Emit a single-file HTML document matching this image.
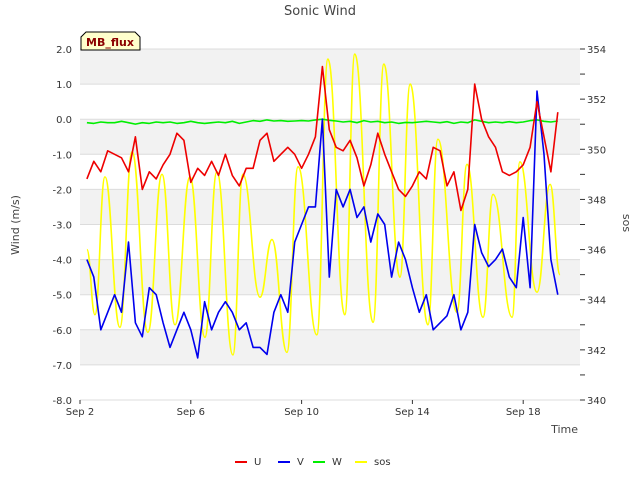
<!DOCTYPE html>
<html><head><meta charset="utf-8"><style>
body{margin:0;background:#fff;font-family:"Liberation Sans","DejaVu Sans",sans-serif;}
svg text{font-family:"DejaVu Sans","Liberation Sans",sans-serif;}
</style></head><body>
<svg id="chart" width="640" height="480" viewBox="0 0 640 480">
<rect x="0" y="0" width="640" height="480" fill="#fff"/>
<g id="bands"></g>
<g id="axes"></g>
<g id="series"></g>
<text x="320" y="15" text-anchor="middle" font-size="13" fill="#444">Sonic Wind</text>
<text transform="translate(19,225) rotate(-90)" text-anchor="middle" font-size="11" fill="#444">Wind (m/s)</text>
<text transform="translate(623,223) rotate(90)" text-anchor="middle" font-size="11" fill="#444">sos</text>
<text x="578" y="433" text-anchor="end" font-size="11" fill="#444">Time</text>
<g>
<path d="M81,50 L81,37 L86,32 L135,32 L140,37 L140,50 Z" fill="#ffffcc" stroke="#000" stroke-width="1"/>
<text x="110" y="46" text-anchor="middle" font-size="11" font-weight="bold" fill="#8b0000">MB_flux</text>
</g>
<g id="legend"></g>
</svg>
<script>
const NS="http://www.w3.org/2000/svg";
const days=[2.25,2.5,2.75,3,3.25,3.5,3.75,4,4.25,4.5,4.75,5,5.25,5.5,5.75,6,6.25,6.5,6.75,7,7.25,7.5,7.75,8,8.25,8.5,8.75,9,9.25,9.5,9.75,10,10.25,10.5,10.75,11,11.25,11.5,11.75,12,12.25,12.5,12.75,13,13.25,13.5,13.75,14,14.25,14.5,14.75,15,15.25,15.5,15.75,16,16.25,16.5,16.75,17,17.25,17.5,17.75,18,18.25,18.5,18.75,19,19.25];
const uVals=[-1.7,-1.2,-1.5,-0.9,-1.0,-1.1,-1.5,-0.5,-2.0,-1.5,-1.7,-1.3,-1.0,-0.4,-0.6,-1.8,-1.4,-1.6,-1.2,-1.6,-1.0,-1.6,-1.9,-1.4,-1.4,-0.6,-0.4,-1.2,-1.0,-0.8,-1.0,-1.4,-1.0,-0.5,1.5,-0.3,-0.8,-0.9,-0.6,-1.1,-1.9,-1.3,-0.4,-1.0,-1.5,-2.0,-2.2,-1.9,-1.5,-1.7,-0.8,-0.9,-1.9,-1.5,-2.6,-2.0,1.0,0.0,-0.5,-0.8,-1.5,-1.6,-1.5,-1.3,-0.8,0.5,-0.5,-1.5,0.2];
const vVals=[-4.0,-4.5,-6.0,-5.5,-5.0,-5.5,-3.5,-5.8,-6.2,-4.8,-5.0,-5.8,-6.5,-6.0,-5.5,-6.0,-6.8,-5.2,-6.0,-5.5,-5.2,-5.5,-6.0,-5.8,-6.5,-6.5,-6.7,-5.5,-5.0,-5.5,-3.5,-3.0,-2.5,-2.5,0.0,-4.5,-2.0,-2.5,-2.0,-2.8,-2.5,-3.5,-2.7,-3.0,-4.5,-3.5,-4.0,-4.8,-5.5,-5.0,-6.0,-5.8,-5.6,-5.0,-6.0,-5.5,-3.0,-3.8,-4.2,-4.0,-3.7,-4.5,-4.8,-2.8,-4.8,0.8,-1.0,-4.0,-5.0];
const wVals=[-0.1,-0.12,-0.08,-0.1,-0.1,-0.06,-0.1,-0.14,-0.1,-0.12,-0.08,-0.1,-0.08,-0.12,-0.1,-0.06,-0.1,-0.12,-0.1,-0.08,-0.1,-0.06,-0.12,-0.08,-0.04,-0.06,-0.02,-0.05,-0.04,-0.06,-0.05,-0.04,-0.05,-0.02,0.0,-0.03,-0.05,-0.08,-0.06,-0.1,-0.04,-0.08,-0.06,-0.1,-0.08,-0.12,-0.09,-0.1,-0.08,-0.06,-0.08,-0.1,-0.07,-0.12,-0.08,-0.1,-0.02,-0.06,-0.1,-0.08,-0.1,-0.07,-0.1,-0.08,-0.04,-0.02,-0.06,-0.08,-0.05];
const sosDays=[2.25,2.54,2.9,3.44,3.88,4.45,4.96,5.43,5.97,6.51,6.94,7.52,7.88,8.5,8.93,9.47,9.87,10.55,10.95,11.56,11.92,12.58,12.97,13.55,13.92,14.56,14.92,15.61,15.97,16.55,16.91,17.6,17.88,18.5,18.97,19.33];
const sosVals=[346.0,343.4,348.9,342.9,349.9,342.7,349.0,343.0,348.9,342.5,349.1,341.8,349.0,344.1,346.4,341.9,349.3,342.6,353.6,343.4,353.8,343.1,353.4,344.9,352.6,343.0,350.4,343.5,349.4,343.3,348.2,343.3,349.5,344.3,348.6,345.0];
const leftTicks=[2,1,0,-1,-2,-3,-4,-5,-6,-7,-8];
const rightTicks=[340,342,344,346,348,350,352,354];
const xTickDays=[2,6,10,14,18];
const xTickLabels=["Sep 2","Sep 6","Sep 10","Sep 14","Sep 18"];
const L=80,R=580,T=49,B=400;
const xs=d=>L+(d-2)*27.7;
const yL=v=>T+(2-v)*(B-T)/10;
const yR=v=>T+(354-v)*(B-T)/14;
function mk(tag,a,p){const e=document.createElementNS(NS,tag);for(const k in a)e.setAttribute(k,a[k]);p.appendChild(e);return e;}
const bands=document.getElementById('bands'),axes=document.getElementById('axes'),ser=document.getElementById('series');
for(let i=0;i<10;i++){
 if(i%2===0){const r=mk('rect',{x:L,y:yL(2-i),width:R-L,height:yL(1-i)-yL(2-i),fill:'#f2f2f2'},bands);
 
 }
}
leftTicks.forEach(v=>{
 const l=mk('line',{x1:L,x2:R,y1:yL(v),y2:yL(v),stroke:'#dcdcdc','stroke-width':1},axes);
 
 
 const t=mk('text',{x:72,y:yL(v)+4,'text-anchor':'end','font-size':10,fill:'#333'},axes);
 t.textContent=v.toFixed(1);
 
 
});
for(let v=340;v<=354;v++){
 mk('line',{x1:R,x2:R+5,y1:yR(v),y2:yR(v),stroke:'#333'},axes);
}
rightTicks.forEach(v=>{
 const t=mk('text',{x:587,y:yR(v)+4,'font-size':10,fill:'#333'},axes);
 t.textContent=v;
 
 
});
xTickDays.forEach((d,i)=>{
 mk('line',{x1:xs(d),x2:xs(d),y1:B,y2:B+4,stroke:'#333'},axes);
 const t=mk('text',{x:xs(d),y:B+15,'text-anchor':'middle','font-size':10,fill:'#333'},axes);
 t.textContent=xTickLabels[i];
 
 
});
function line(vals,dd,yf,color,name){
 const pts=vals.map((v,i)=>xs(dd[i]).toFixed(1)+','+yf(v).toFixed(1)).join(' ');
 const p=mk('polyline',{points:pts,fill:'none',stroke:color,'stroke-width':1.6,'stroke-linejoin':'round'},ser);
 
 
}
function smooth(vals,dd,yf,color,name){
 const P=vals.map((v,i)=>[xs(dd[i]),yf(v)]);
 let d='M'+P[0][0]+','+P[0][1];
 for(let i=0;i<P.length-1;i++){
  const p1=P[i],p2=P[i+1],dx=(p2[0]-p1[0])*0.45;
  d+=` C${p1[0]+dx},${p1[1]} ${p2[0]-dx},${p2[1]} ${p2[0]},${p2[1]}`;
 }
 const p=mk('path',{d:d,fill:'none',stroke:color,'stroke-width':1.6},ser);
 
 
}
smooth(sosVals,sosDays,yR,'#ffff00','sos-line');
line(wVals,days,yL,'#00ee00','w-line');
line(vVals,days,yL,'#0000ee','v-line');
line(uVals,days,yL,'#ee0000','u-line');
const leg=document.getElementById('legend');
[['U','#ee0000',235],['V','#0000ee',278],['W','#00ee00',313],['sos','#ffff00',355]].forEach(([n,c,x])=>{
 const l=mk('line',{x1:x,x2:x+12,y1:462,y2:462,stroke:c,'stroke-width':2},leg);
 
 
 const t=mk('text',{x:x+19,y:465,'font-size':10,fill:'#333'},leg);
 t.textContent=n;
 
 
});
</script>
</body></html>
